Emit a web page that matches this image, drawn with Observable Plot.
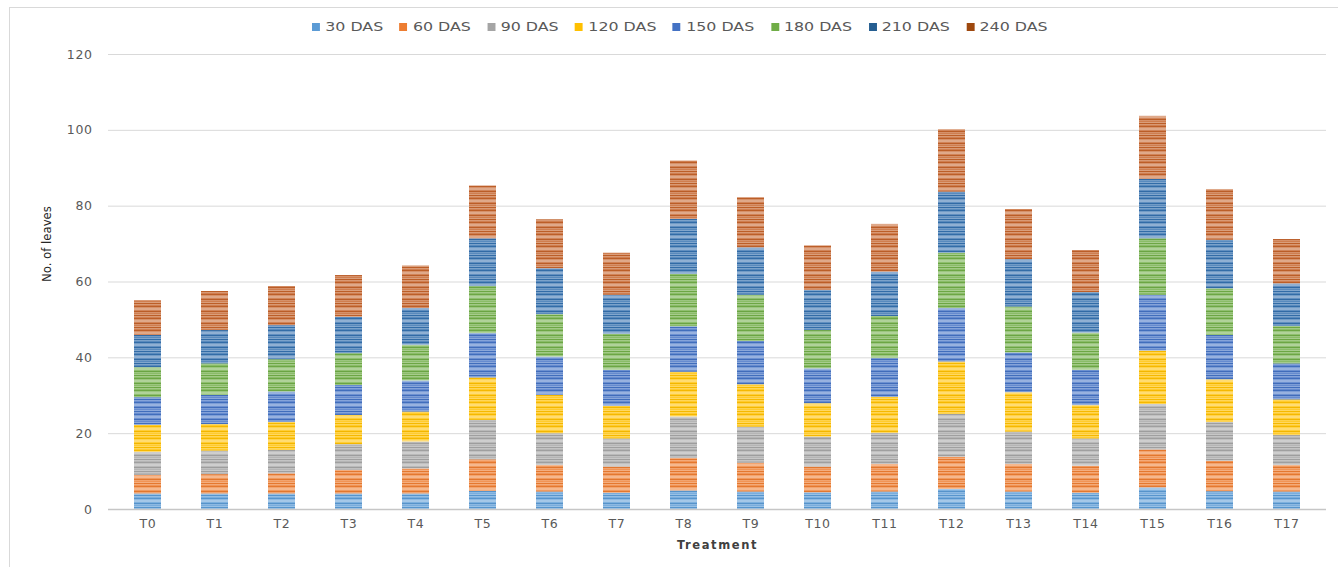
<!DOCTYPE html>
<html>
<head>
<meta charset="utf-8">
<script src="https://cdn.jsdelivr.net/npm/d3@7"></script>
<script src="https://cdn.jsdelivr.net/npm/@observablehq/plot@0.6"></script>
<style>
  html, body { margin: 0; padding: 0; background: #fff; }
  body { width: 1338px; height: 567px; overflow: hidden; position: relative; font-family: "DejaVu Sans", sans-serif; }
  .frame { position: absolute; left: 9px; top: 7px; width: 1400px; height: 600px; border: 1px solid #d9d9d9; box-sizing: border-box; pointer-events: none; }
  .legend { position: relative; height: 40px; }
  .legend-row { position: absolute; left: 312px; top: 19px; display: flex; align-items: center; font-size: 12px; color: #595959; line-height: 16px; white-space: nowrap; transform: scaleX(1.32); transform-origin: 0 50%; }
  .legend-item { display: flex; align-items: center; margin-right: 12.5px; }
  .legend-swatch { width: 6px; height: 8px; margin-right: 4px; }
  #chart { position: relative; }
</style>
</head>
<body>
<div class="frame"></div>
<div class="legend"><div class="legend-row" id="legend"></div></div>
<div id="chart"></div>
<script>
// Treatments along the x axis
const treatments = ["T0","T1","T2","T3","T4","T5","T6","T7","T8","T9","T10","T11","T12","T13","T14","T15","T16","T17"];

// Sampling stages (days after sowing), stacked bottom to top
const stages = ["30 DAS","60 DAS","90 DAS","120 DAS","150 DAS","180 DAS","210 DAS","240 DAS"];
const stageColors = ["#5B9BD5","#ED7D31","#A5A5A5","#FFC000","#4472C4","#70AD47","#255E91","#9E480E"];
const barColors   = ["#5B9BD5","#ED7D31","#A5A5A5","#FFC000","#4472C4","#70AD47","#3470AE","#C4622A"];

// Number of leaves added in each stage, per treatment
const das30  = [4.1,4.1,4.1,4.1,4.1,4.8,4.6,4.3,4.9,4.6,4.4,4.6,5.3,4.6,4.3,5.7,4.7,4.6];
const das60  = [4.9,5.1,5.3,6.2,6.6,8.3,7.0,6.9,8.6,7.6,6.8,7.3,8.5,7.3,7.1,10.0,8.0,7.0];
const das90  = [6.1,6.2,6.2,6.8,7.1,10.4,8.4,7.4,10.9,9.5,7.9,8.2,11.3,8.5,7.2,12.0,10.3,7.9];
const das120 = [7.1,7.0,7.4,7.7,7.9,11.2,10.1,8.6,11.8,11.2,8.8,9.5,13.8,10.4,8.8,14.1,11.2,9.4];
const das150 = [7.3,7.7,8.0,7.9,8.2,11.7,10.1,9.5,12.0,11.4,9.2,10.2,14.1,10.5,9.3,14.7,11.7,9.5];
const das180 = [7.9,8.3,8.5,8.4,9.4,12.4,11.2,9.5,13.8,12.2,10.1,11.1,14.6,12.1,9.8,14.9,12.3,9.9];
const das210 = [8.5,8.8,9.0,9.6,9.7,12.6,12.1,10.3,14.5,12.5,10.6,11.7,16.1,12.5,10.7,15.7,12.8,11.2];
const das240 = [9.2,10.3,10.3,11.0,11.2,13.9,12.9,11.1,15.4,13.2,11.7,12.6,16.5,13.2,11.1,16.6,13.4,11.7];

const yTicks = [0, 20, 40, 60, 80, 100, 120];

const series = [das30, das60, das90, das120, das150, das180, das210, das240];

// Long-form table: one row per treatment and stage, in stacking order
const rows = [];
treatments.forEach((t, i) => {
  stages.forEach((s, j) => rows.push({treatment: t, stage: s, value: series[j][i]}));
});

// Striped fills, one pattern per stage
const patternIds = stages.map((_, i) => `stripe-${i}`);

// Legend
const legend = document.getElementById("legend");
stages.forEach((s, i) => {
  const item = document.createElement("div");
  item.className = "legend-item";
  const sw = document.createElement("span");
  sw.className = "legend-swatch";
  sw.style.background = stageColors[i];
  const lab = document.createElement("span");
  lab.textContent = s;
  item.append(sw, lab);
  legend.append(item);
});

const chart = Plot.plot({
  width: 1338,
  height: 527,
  marginLeft: 108,
  marginRight: 12,
  marginTop: 14,
  marginBottom: 58,
  style: {fontFamily: "DejaVu Sans, sans-serif", background: "transparent"},
  x: {domain: treatments, paddingInner: 0.6, paddingOuter: 0.3, label: null},
  y: {domain: [0, 120], label: null},
  color: {domain: stages, range: patternIds.map(id => `url(#${id})`)},
  marks: [
    Plot.gridY(yTicks, {stroke: "#d9d9d9", strokeOpacity: 1, strokeWidth: 1}),
    Plot.barY(rows, {x: "treatment", y: "value", fill: "stage", inset: 0}),
    Plot.ruleY([0], {stroke: "#c6c6c6", strokeWidth: 1.5}),
    Plot.axisX({tickSize: 0, tickPadding: 10, fontSize: 12.5, fill: "#595959", label: null}),
    Plot.axisY(yTicks, {tickSize: 0, tickPadding: 16, fontSize: 12.5, fill: "#595959", label: null}),
    Plot.text(["No. of leaves"], {frameAnchor: "left", rotate: -90, dx: -62, fontSize: 13, fill: "#262626",
      fontFamily: "Liberation Sans Narrow, DejaVu Sans Condensed, sans-serif"}),
    Plot.text(["Treatment"], {frameAnchor: "bottom", dy: 39, fontSize: 11.5, fontWeight: "bold", fill: "#404040"})
  ]
});

// Pattern definitions used by the bar fills: soft horizontal banding
const ns = "http://www.w3.org/2000/svg";
const defs = document.createElementNS(ns, "defs");
const stripes = [
  [0, 1, "#fff", 0.35], [1, 1, "#fff", 0.18], [2, 1, "#000", 0.04], [3, 1, "#fff", 0.30],
  [4, 2, "#fff", 0.45], [6, 1, "#fff", 0.22], [7, 1, "#000", 0.05], [8, 1, "#fff", 0.30],
  [9, 1, "#fff", 0.18], [10, 1, "#fff", 0.38], [11, 1, "#000", 0.04]
];
barColors.forEach((c, i) => {
  const p = document.createElementNS(ns, "pattern");
  p.setAttribute("id", patternIds[i]);
  p.setAttribute("patternUnits", "userSpaceOnUse");
  p.setAttribute("width", 8);
  p.setAttribute("height", 12);
  const base = document.createElementNS(ns, "rect");
  base.setAttribute("width", 8);
  base.setAttribute("height", 12);
  base.setAttribute("fill", c);
  p.append(base);
  for (const [y, h, col, op] of stripes) {
    const r = document.createElementNS(ns, "rect");
    r.setAttribute("y", y);
    r.setAttribute("width", 8);
    r.setAttribute("height", h);
    r.setAttribute("fill", col);
    r.setAttribute("fill-opacity", op);
    p.append(r);
  }
  defs.append(p);
});
chart.insertBefore(defs, chart.firstChild);

// Slightly open up the tick labels
chart.querySelectorAll("g[aria-label='x-axis tick label'] text, g[aria-label='y-axis tick label'] text").forEach(t => {
  t.setAttribute("letter-spacing", "0.6");
});
chart.querySelectorAll("g[aria-label='text'] text").forEach(t => {
  if (t.textContent === "Treatment") t.setAttribute("letter-spacing", "1.6");
});

document.getElementById("chart").append(chart);
</script>
</body>
</html>
